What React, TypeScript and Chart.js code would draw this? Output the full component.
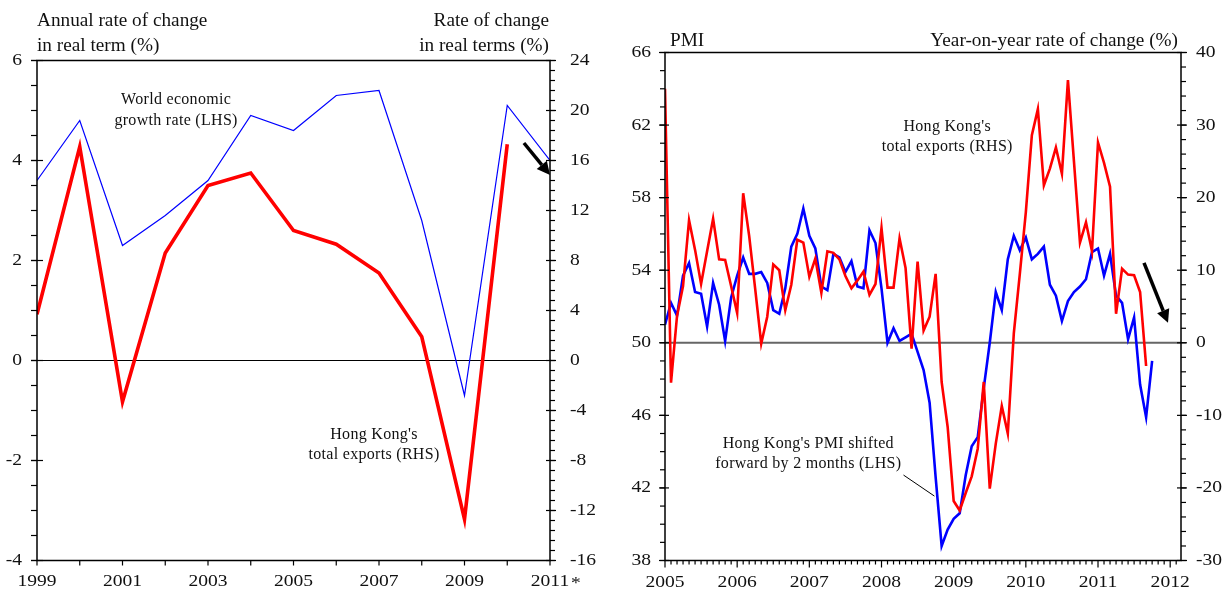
import React, { useEffect, useRef } from 'react';
import { Chart, registerables } from 'chart.js';

Chart.register(...registerables);

const FONT = '"Liberation Serif", "Times New Roman", Times, serif';

// ---------------- Left panel data (annual) ----------------
const annualYears = [1999, 2000, 2001, 2002, 2003, 2004, 2005, 2006, 2007, 2008, 2009, 2010, 2011];
const worldGrowth = [3.6, 4.8, 2.3, 2.9, 3.6, 4.9, 4.6, 5.3, 5.4, 2.8, -0.7, 5.1, 4.0];
const hkExportsAnnual = [3.7, 17.1, -3.3, 8.6, 14.0, 15.0, 10.4, 9.3, 7.0, 1.9, -12.7, 17.3];
const leftLhsTicks = [-4, -2, 0, 2, 4, 6];
const leftRhsTicks = [-16, -12, -8, -4, 0, 4, 8, 12, 16, 20, 24];
const leftYearLabels = [1999, 2001, 2003, 2005, 2007, 2009, 2011];

// ---------------- Right panel data (monthly, from Jan 2005) ----------------
const pmiShifted = [
  51.0, 52.2, 51.5, 53.7, 54.4, 52.8, 52.7, 50.9, 53.3, 52.1, 50.1, 52.5,
  53.7, 54.7, 53.8, 53.8, 53.9, 53.3, 51.8, 51.6, 53.0, 55.3, 56.0, 57.4,
  55.9, 55.2, 53.1, 52.9, 54.9, 54.7, 53.9, 54.5, 53.1, 53.0, 56.2, 55.5,
  53.0, 50.0, 50.8, 50.1, 50.3, 50.5, 49.5, 48.5, 46.7, 42.6, 38.8, 39.7,
  40.3, 40.6, 42.7, 44.3, 44.8, 47.5, 50.0, 52.8, 51.8, 54.6, 55.9, 55.1,
  55.8, 54.6, 54.9, 55.3, 53.2, 52.6, 51.2, 52.3, 52.8, 53.1, 53.5, 55.0,
  55.2, 53.7, 54.9, 52.6, 52.2, 50.2, 51.4, 47.7, 45.9, 49.0,
];
const hkExportsMonthly = [
  35.0, -5.5, 3.7, 7.8, 16.9, 12.8, 8.1, 12.6, 17.1, 11.5, 11.4, 7.8,
  4.1, 20.6, 14.7, 7.4, -0.1, 3.6, 10.8, 10.0, 4.5, 8.0, 14.2, 13.8,
  9.1, 11.6, 6.9, 12.6, 12.4, 11.5, 9.2, 7.5, 8.6, 9.8, 6.6, 8.1,
  15.8, 7.6, 7.6, 14.4, 10.3, -0.8, 11.2, 1.7, 3.6, 9.5, -5.4, -11.6,
  -21.8, -23.1, -20.7, -18.4, -14.6, -5.4, -20.1, -13.9, -8.7, -12.5, 1.3, 9.5,
  18.0, 28.6, 32.2, 21.7, 24.0, 26.9, 23.3, 36.2, 25.0, 13.8, 16.6, 12.6,
  27.6, 24.8, 21.5, 4.0, 10.2, 9.4, 9.3, 7.0, -3.2,
];
const months = pmiShifted.map((_, i) => `${2005 + Math.floor(i / 12)}-${String((i % 12) + 1).padStart(2, '0')}`);
const rightLhsTicks = [38, 42, 46, 50, 54, 58, 62, 66];
const rightRhsTicks = [-30, -20, -10, 0, 10, 20, 30, 40];
const rightYearLabels = [2005, 2006, 2007, 2008, 2009, 2010, 2011, 2012];

// ---------------- helpers ----------------
type Align = 'left' | 'right' | 'center';

function drawText(
  ctx: CanvasRenderingContext2D,
  text: string,
  x: number,
  y: number,
  size: number,
  align: Align,
  sx = 1,
  spacing = 0,
) {
  ctx.save();
  ctx.font = `${size}px ${FONT}`;
  (ctx as any).letterSpacing = `${spacing}px`;
  ctx.textAlign = 'left';
  ctx.textBaseline = 'middle';
  ctx.fillStyle = '#111';
  const w = (ctx.measureText(text).width - spacing) * sx;
  let left = x;
  if (align === 'right') left = x - w;
  else if (align === 'center') left = x - w / 2;
  ctx.translate(left, y);
  ctx.scale(sx, 1);
  ctx.fillText(text, 0, 0);
  ctx.restore();
}

function seg(ctx: CanvasRenderingContext2D, x1: number, y1: number, x2: number, y2: number) {
  ctx.beginPath();
  ctx.moveTo(x1, y1);
  ctx.lineTo(x2, y2);
  ctx.stroke();
}

function arrow(ctx: CanvasRenderingContext2D, x1: number, y1: number, x2: number, y2: number) {
  const ang = Math.atan2(y2 - y1, x2 - x1);
  const head = 13;
  const half = 6.5;
  const bx = x2 - head * Math.cos(ang);
  const by = y2 - head * Math.sin(ang);
  ctx.save();
  ctx.strokeStyle = '#000';
  ctx.fillStyle = '#000';
  ctx.lineWidth = 3.5;
  seg(ctx, x1, y1, bx, by);
  ctx.beginPath();
  ctx.moveTo(x2, y2);
  ctx.lineTo(bx + half * Math.sin(ang), by - half * Math.cos(ang));
  ctx.lineTo(bx - half * Math.sin(ang), by + half * Math.cos(ang));
  ctx.closePath();
  ctx.fill();
  ctx.restore();
}

function stepValues(min: number, max: number, step: number) {
  const n = Math.round((max - min) / step);
  const out: number[] = [];
  for (let i = 0; i <= n; i++) out.push(min + i * step);
  return out;
}

const TICK_SIZE = 17;
const TICK_SX = 1.15;
const TITLE_SIZE = 18.5;
const TITLE_SX = 1.04;
const NOTE_SIZE = 16;
const NOTE_SP = 0.3;

// ---------------- Left panel plugin ----------------
const leftPlugin = {
  id: 'leftPanel',
  beforeDatasetsDraw(chart: any) {
    const { ctx, chartArea: a, scales } = chart;
    const y0 = scales.y.getPixelForValue(0);
    ctx.save();
    ctx.strokeStyle = '#000';
    ctx.lineWidth = 1.2;
    seg(ctx, a.left, y0, a.right, y0);
    ctx.restore();
  },
  afterDatasetsDraw(chart: any) {
    const { ctx, chartArea: a, scales } = chart;
    const { x, y, y2 } = scales;
    ctx.save();
    ctx.strokeStyle = '#000';
    ctx.lineWidth = 1.5;
    ctx.strokeRect(a.left, a.top, a.right - a.left, a.bottom - a.top);
    ctx.lineWidth = 1.2;
    // LHS ticks
    stepValues(y.min, y.max, 0.5).forEach((v) => {
      const p = y.getPixelForValue(v);
      seg(ctx, a.left - 6, p, a.left, p);
    });
    leftLhsTicks.forEach((v) => {
      const p = y.getPixelForValue(v);
      seg(ctx, a.left - 6, p, a.left + 6, p);
    });
    // RHS ticks
    stepValues(y2.min, y2.max, 0.8).forEach((v) => {
      const p = y2.getPixelForValue(v);
      seg(ctx, a.right, p, a.right + 5, p);
    });
    leftRhsTicks.forEach((v) => {
      const p = y2.getPixelForValue(v);
      seg(ctx, a.right - 4, p, a.right + 6, p);
    });
    // x ticks (every year)
    annualYears.forEach((yr) => {
      const p = x.getPixelForValue(yr);
      seg(ctx, p, a.bottom, p, a.bottom + 5);
    });
    ctx.restore();
  },
  afterDraw(chart: any) {
    const { ctx, chartArea: a, scales } = chart;
    const { x, y, y2 } = scales;
    leftLhsTicks.forEach((v) => drawText(ctx, String(v), a.left - 15, y.getPixelForValue(v), TICK_SIZE, 'right', TICK_SX));
    leftRhsTicks.forEach((v) => drawText(ctx, String(v), a.right + 20, y2.getPixelForValue(v), TICK_SIZE, 'left', TICK_SX));
    leftYearLabels.forEach((yr) => drawText(ctx, String(yr), x.getPixelForValue(yr), a.bottom + 21, TICK_SIZE, 'center', TICK_SX));
    drawText(ctx, '*', x.getPixelForValue(2011) + 21, a.bottom + 23, TICK_SIZE, 'left', TICK_SX);

    drawText(ctx, 'Annual rate of change', a.left, a.top - 39, TITLE_SIZE, 'left', TITLE_SX);
    drawText(ctx, 'in real term (%)', a.left, a.top - 14, TITLE_SIZE, 'left', TITLE_SX);
    drawText(ctx, 'Rate of change', a.right - 1, a.top - 39, TITLE_SIZE, 'right', TITLE_SX);
    drawText(ctx, 'in real terms (%)', a.right - 1, a.top - 14, TITLE_SIZE, 'right', TITLE_SX);

    const note = (t: string, xv: number, yv: number) =>
      drawText(ctx, t, x.getPixelForValue(xv), y.getPixelForValue(yv), NOTE_SIZE, 'center', 1, NOTE_SP);
    note('World economic', 2002.25, 5.21);
    note('growth rate (LHS)', 2002.25, 4.8);
    note("Hong Kong's", 2006.88, -1.49);
    note('total exports (RHS)', 2006.88, -1.89);

    arrow(ctx, x.getPixelForValue(2010.39), y.getPixelForValue(4.35), x.getPixelForValue(2011), y.getPixelForValue(3.71));
  },
};

// ---------------- Right panel plugin ----------------
const rightPlugin = {
  id: 'rightPanel',
  beforeDatasetsDraw(chart: any) {
    const { ctx, chartArea: a, scales } = chart;
    const y0 = scales.y.getPixelForValue(50);
    ctx.save();
    ctx.strokeStyle = '#666';
    ctx.lineWidth = 2;
    seg(ctx, a.left, y0, a.right, y0);
    ctx.restore();
  },
  afterDatasetsDraw(chart: any) {
    const { ctx, chartArea: a, scales } = chart;
    const { x, y, y2 } = scales;
    ctx.save();
    ctx.strokeStyle = '#000';
    ctx.lineWidth = 1.5;
    ctx.strokeRect(a.left, a.top, a.right - a.left, a.bottom - a.top);
    ctx.lineWidth = 1.2;
    stepValues(y.min, y.max, 1).forEach((v) => {
      const p = y.getPixelForValue(v);
      seg(ctx, a.left - 5, p, a.left, p);
    });
    rightLhsTicks.forEach((v) => {
      const p = y.getPixelForValue(v);
      seg(ctx, a.left - 6, p, a.left + 4, p);
    });
    stepValues(y2.min, y2.max, 2).forEach((v) => {
      const p = y2.getPixelForValue(v);
      seg(ctx, a.right, p, a.right + 5, p);
    });
    rightRhsTicks.forEach((v) => {
      const p = y2.getPixelForValue(v);
      seg(ctx, a.right - 4, p, a.right + 6, p);
    });
    const lastMonth = Math.floor(x.max);
    stepValues(0, lastMonth, 1).forEach((m) => {
      const p = x.getPixelForValue(m);
      seg(ctx, p, a.bottom, p, a.bottom + (m % 12 === 0 ? 7 : 4));
    });
    ctx.restore();
  },
  afterDraw(chart: any) {
    const { ctx, chartArea: a, scales } = chart;
    const { x, y, y2 } = scales;
    rightLhsTicks.forEach((v) => drawText(ctx, String(v), a.left - 14, y.getPixelForValue(v), TICK_SIZE, 'right', TICK_SX));
    rightRhsTicks.forEach((v) => drawText(ctx, String(v), a.right + 15, y2.getPixelForValue(v), TICK_SIZE, 'left', TICK_SX));
    rightYearLabels.forEach((yr) =>
      drawText(ctx, String(yr), x.getPixelForValue((yr - 2005) * 12), a.bottom + 22.5, TICK_SIZE, 'center', TICK_SX),
    );

    drawText(ctx, 'PMI', a.left + 5, a.top - 11, TITLE_SIZE, 'left', TITLE_SX);
    drawText(ctx, 'Year-on-year rate of change (%)', a.right - 3, a.top - 11, TITLE_SIZE, 'right', TITLE_SX);

    const note = (t: string, xv: number, yv: number) =>
      drawText(ctx, t, x.getPixelForValue(xv), y.getPixelForValue(yv), NOTE_SIZE, 'center', 1, NOTE_SP);
    note("Hong Kong's", 46.9, 61.9);
    note('total exports (RHS)', 46.9, 60.8);
    note("Hong Kong's PMI shifted", 23.8, 44.42);
    note('forward by 2 months (LHS)', 23.8, 43.31);

    ctx.save();
    ctx.strokeStyle = '#000';
    ctx.lineWidth = 1;
    seg(ctx, x.getPixelForValue(39.66), y.getPixelForValue(42.71), x.getPixelForValue(44.8), y.getPixelForValue(41.55));
    ctx.restore();

    arrow(ctx, x.getPixelForValue(79.65), y.getPixelForValue(54.4), x.getPixelForValue(83.64), y.getPixelForValue(51.1));
  },
};

// ---------------- components ----------------
function LeftChart() {
  const ref = useRef<HTMLCanvasElement | null>(null);
  useEffect(() => {
    if (!ref.current) return;
    const chart = new Chart(ref.current, {
      type: 'line',
      data: {
        datasets: [
          {
            label: "Hong Kong's total exports (RHS)",
            data: hkExportsAnnual.map((v, i) => ({ x: annualYears[i], y: v })),
            yAxisID: 'y2',
            borderColor: '#ff0000',
            borderWidth: 3.6,
            pointRadius: 0,
            tension: 0,
            order: 0,
          },
          {
            label: 'World economic growth rate (LHS)',
            data: worldGrowth.map((v, i) => ({ x: annualYears[i], y: v })),
            yAxisID: 'y',
            borderColor: '#0000ff',
            borderWidth: 1.2,
            pointRadius: 0,
            tension: 0,
            order: 1,
          },
        ],
      },
      options: {
        animation: false,
        responsive: false,
        events: [],
        layout: { autoPadding: false, padding: { left: 37, right: 60, top: 60.5, bottom: 30.5 } },
        plugins: { legend: { display: false }, tooltip: { enabled: false } },
        scales: {
          x: { type: 'linear', min: 1999, max: 2011, display: false },
          y: { type: 'linear', min: -4, max: 6, display: false },
          y2: { type: 'linear', position: 'right', min: -16, max: 24, display: false },
        },
      },
      plugins: [leftPlugin],
    } as any);
    return () => chart.destroy();
  }, []);
  return <canvas ref={ref} width={610} height={591} style={{ position: 'absolute', left: 0, top: 0, width: 610, height: 591 }} />;
}

function RightChart() {
  const ref = useRef<HTMLCanvasElement | null>(null);
  useEffect(() => {
    if (!ref.current) return;
    const chart = new Chart(ref.current, {
      type: 'line',
      data: {
        datasets: [
          {
            label: "Hong Kong's total exports (RHS)",
            data: hkExportsMonthly.map((v, i) => ({ x: i, y: v, m: months[i] })),
            yAxisID: 'y2',
            borderColor: '#ff0000',
            borderWidth: 2.6,
            pointRadius: 0,
            tension: 0,
            order: 0,
          },
          {
            label: "Hong Kong's PMI shifted forward by 2 months (LHS)",
            data: pmiShifted.map((v, i) => ({ x: i, y: v, m: months[i] })),
            yAxisID: 'y',
            borderColor: '#0000ff',
            borderWidth: 2.6,
            pointRadius: 0,
            tension: 0,
            order: 1,
          },
        ],
      },
      options: {
        animation: false,
        responsive: false,
        events: [],
        layout: { autoPadding: false, padding: { left: 55, right: 45, top: 52.5, bottom: 30.5 } },
        plugins: { legend: { display: false }, tooltip: { enabled: false } },
        scales: {
          x: { type: 'linear', min: 0, max: 85.8, display: false },
          y: { type: 'linear', min: 38, max: 66, display: false },
          y2: { type: 'linear', position: 'right', min: -30, max: 40, display: false },
        },
      },
      plugins: [rightPlugin],
    } as any);
    return () => chart.destroy();
  }, []);
  return <canvas ref={ref} width={616} height={591} style={{ position: 'absolute', left: 610, top: 0, width: 616, height: 591 }} />;
}

export default function App() {
  return (
    <div style={{ position: 'fixed', left: 0, top: 0, width: 1226, height: 591, background: '#fff', overflow: 'hidden' }}>
      <LeftChart />
      <RightChart />
    </div>
  );
}
